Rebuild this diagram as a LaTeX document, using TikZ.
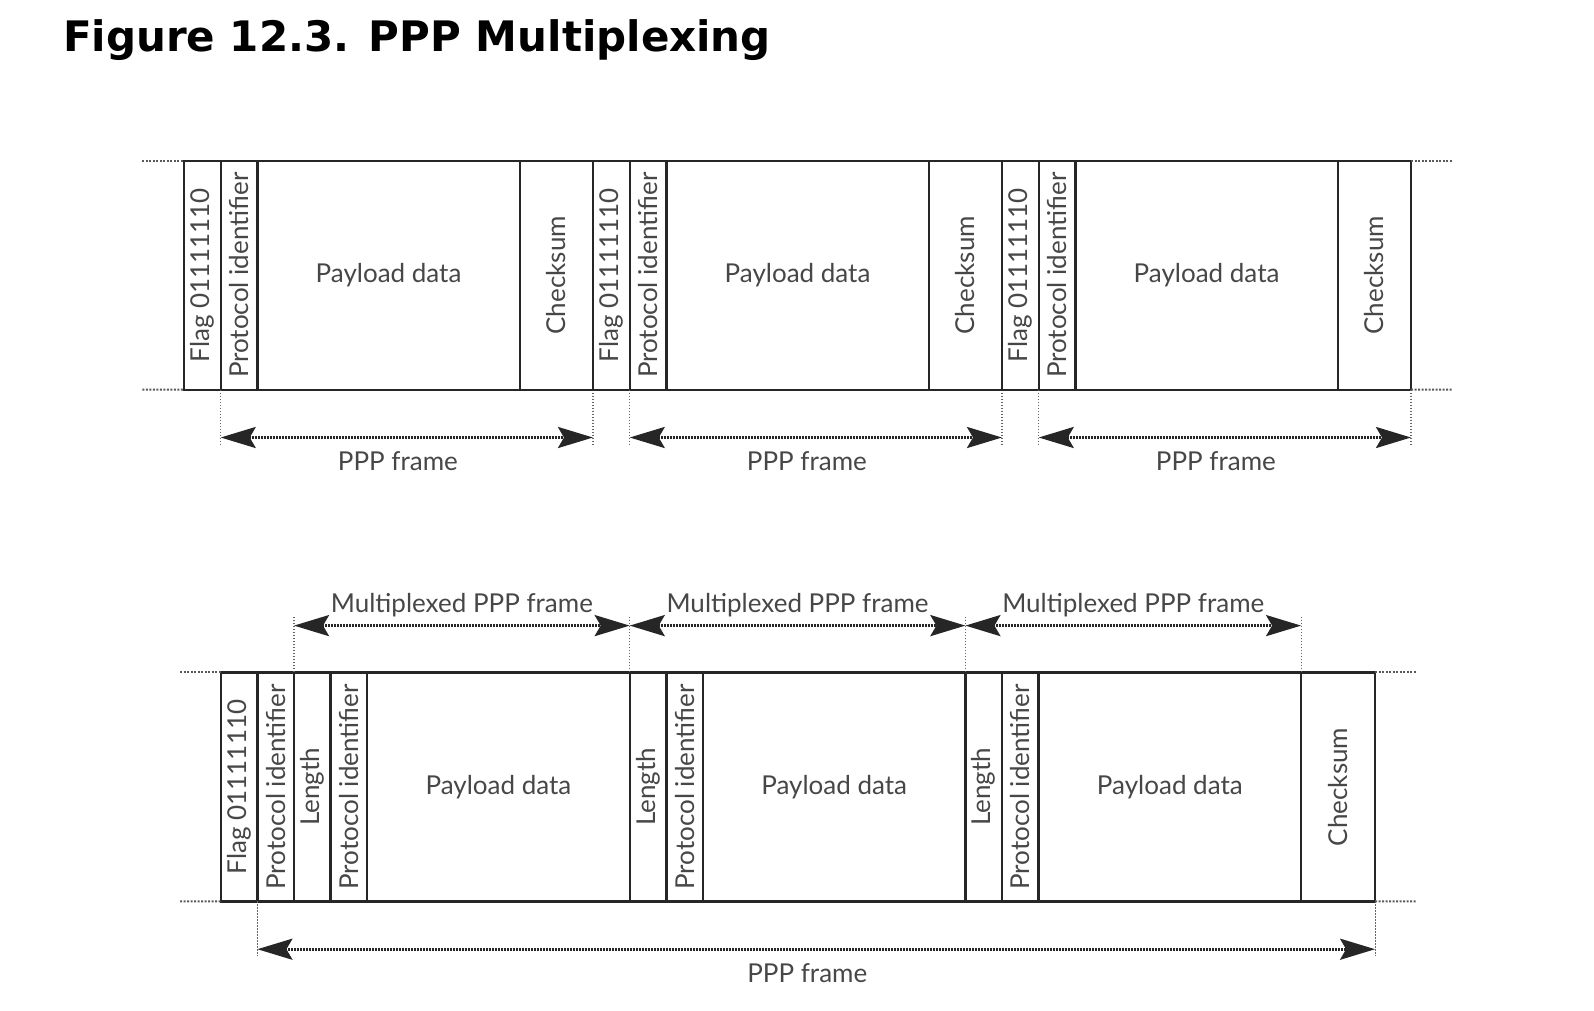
\documentclass[tikz,border=0pt]{standalone}
\usepackage{fontspec}
\setmainfont{Lato}
\newfontfamily\titlefont{DejaVu Sans}
\usetikzlibrary{positioning,arrows.meta}

\begin{document}
\begin{tikzpicture}[x=1pt,y=-1pt]
\tikzstyle{every node}=[inner sep=0pt,outer sep=0pt,text=black!72,font=\fontsize{26}{30}\selectfont]
\tikzstyle{field}=[draw=black!85,line width=2.4pt,minimum height=229pt]
\tikzstyle{narrow}=[field,minimum width=36.6pt]
\tikzstyle{payload}=[field,minimum width=262.5pt]
\tikzstyle{check}=[field,minimum width=73.2pt]
\tikzstyle{tail}=[black!65,line width=2pt,dash pattern=on 2pt off 1.5pt]
\tikzstyle{guide}=[black!60,line width=1.2pt,dash pattern=on 1.5pt off 1.5pt]
\tikzstyle{span}=[black!85,line width=3pt,dash pattern=on 2pt off 1pt,
	{Stealth[length=35pt,width=21pt,inset=6pt]}-{Stealth[length=35pt,width=21pt,inset=6pt]}]
\useasboundingbox (0,0) rectangle (1594,1010);
\node[anchor=base west,text=black,font=\titlefont\bfseries\fontsize{42}{46}\selectfont] (title) at (63,51) {Figure 12.3. PPP Multiplexing};
% plain PPP frames
\foreach \i/\x in {1/184.1,2/593.1,3/1002.1}{
	\node[narrow,anchor=west] (flag\i) at (\x,275.2) {\rotatebox{90}{Flag 01111110}};
	\node[narrow,right=0pt of flag\i] (prot\i) {\rotatebox{90}{Protocol identifier}};
	\node[payload,right=0pt of prot\i] (data\i) {Payload data};
	\node[check,right=0pt of data\i] (sum\i) {\rotatebox{90}{Checksum}};
	\draw[guide] (prot\i.south west) -- ++(0,55);
	\draw[guide] (sum\i.south east) -- ++(0,55);
	\path (prot\i.south west) ++(0,47.8) coordinate (al\i);
	\path (sum\i.south east) ++(0,47.8) coordinate (ar\i);
	\draw[span] (al\i) -- (ar\i) node[midway,below=14pt,xshift=-9pt] {PPP frame};
}
\coordinate (tl1) at (142.4,160.7);
\coordinate (tl2) at (142.4,389.6);
\coordinate (tr1) at (1452.7,160.7);
\coordinate (tr2) at (1452.7,389.6);
\draw[tail] (tl1) -- (flag1.north west);
\draw[tail] (tl2) -- (flag1.south west);
\draw[tail] (sum3.north east) -- (tr1);
\draw[tail] (sum3.south east) -- (tr2);
% multiplexed frame
\node[narrow,anchor=west] (mflag) at (220.8,786.9) {\rotatebox{90}{Flag 01111110}};
\node[narrow,right=0pt of mflag] (mprot) {\rotatebox{90}{Protocol identifier}};
\foreach \i/\p in {1/mprot,2/load1,3/load2}{
	\node[narrow,right=0pt of \p] (len\i) {\rotatebox{90}{Length}};
	\node[narrow,right=0pt of len\i] (pid\i) {\rotatebox{90}{Protocol identifier}};
	\node[payload,right=0pt of pid\i] (load\i) {Payload data};
}
\node[check,minimum width=74pt,right=0pt of load3] (msum) {\rotatebox{90}{Checksum}};
\foreach \i/\n in {1/len2,2/len3,3/msum}{
	\draw[guide] (len\i.north west) -- ++(0,-57);
	\path (len\i.north west) ++(0,-46.8) coordinate (ml\i);
	\path (\n.north west) ++(0,-46.8) coordinate (mr\i);
	\draw[span] (ml\i) -- (mr\i) node[midway,above=9pt] {Multiplexed PPP frame};
}
\draw[guide] (msum.north west) -- ++(0,-57);
\draw[guide] (mprot.south west) -- ++(0,55);
\draw[guide] (msum.south east) -- ++(0,55);
\path (mprot.south west) ++(0,47.8) coordinate (bl);
\path (msum.south east) ++(0,47.8) coordinate (br);
\draw[span] (bl) -- (br) node[midway,below=14pt,xshift=-9pt] {PPP frame};
\coordinate (ml) at (180,672.4);
\coordinate (mb) at (180,901.3);
\coordinate (mr) at (1416,672.4);
\coordinate (ms) at (1416,901.3);
\draw[tail] (ml) -- (mflag.north west);
\draw[tail] (mb) -- (mflag.south west);
\draw[tail] (msum.north east) -- (mr);
\draw[tail] (msum.south east) -- (ms);
\end{tikzpicture}
\end{document}
